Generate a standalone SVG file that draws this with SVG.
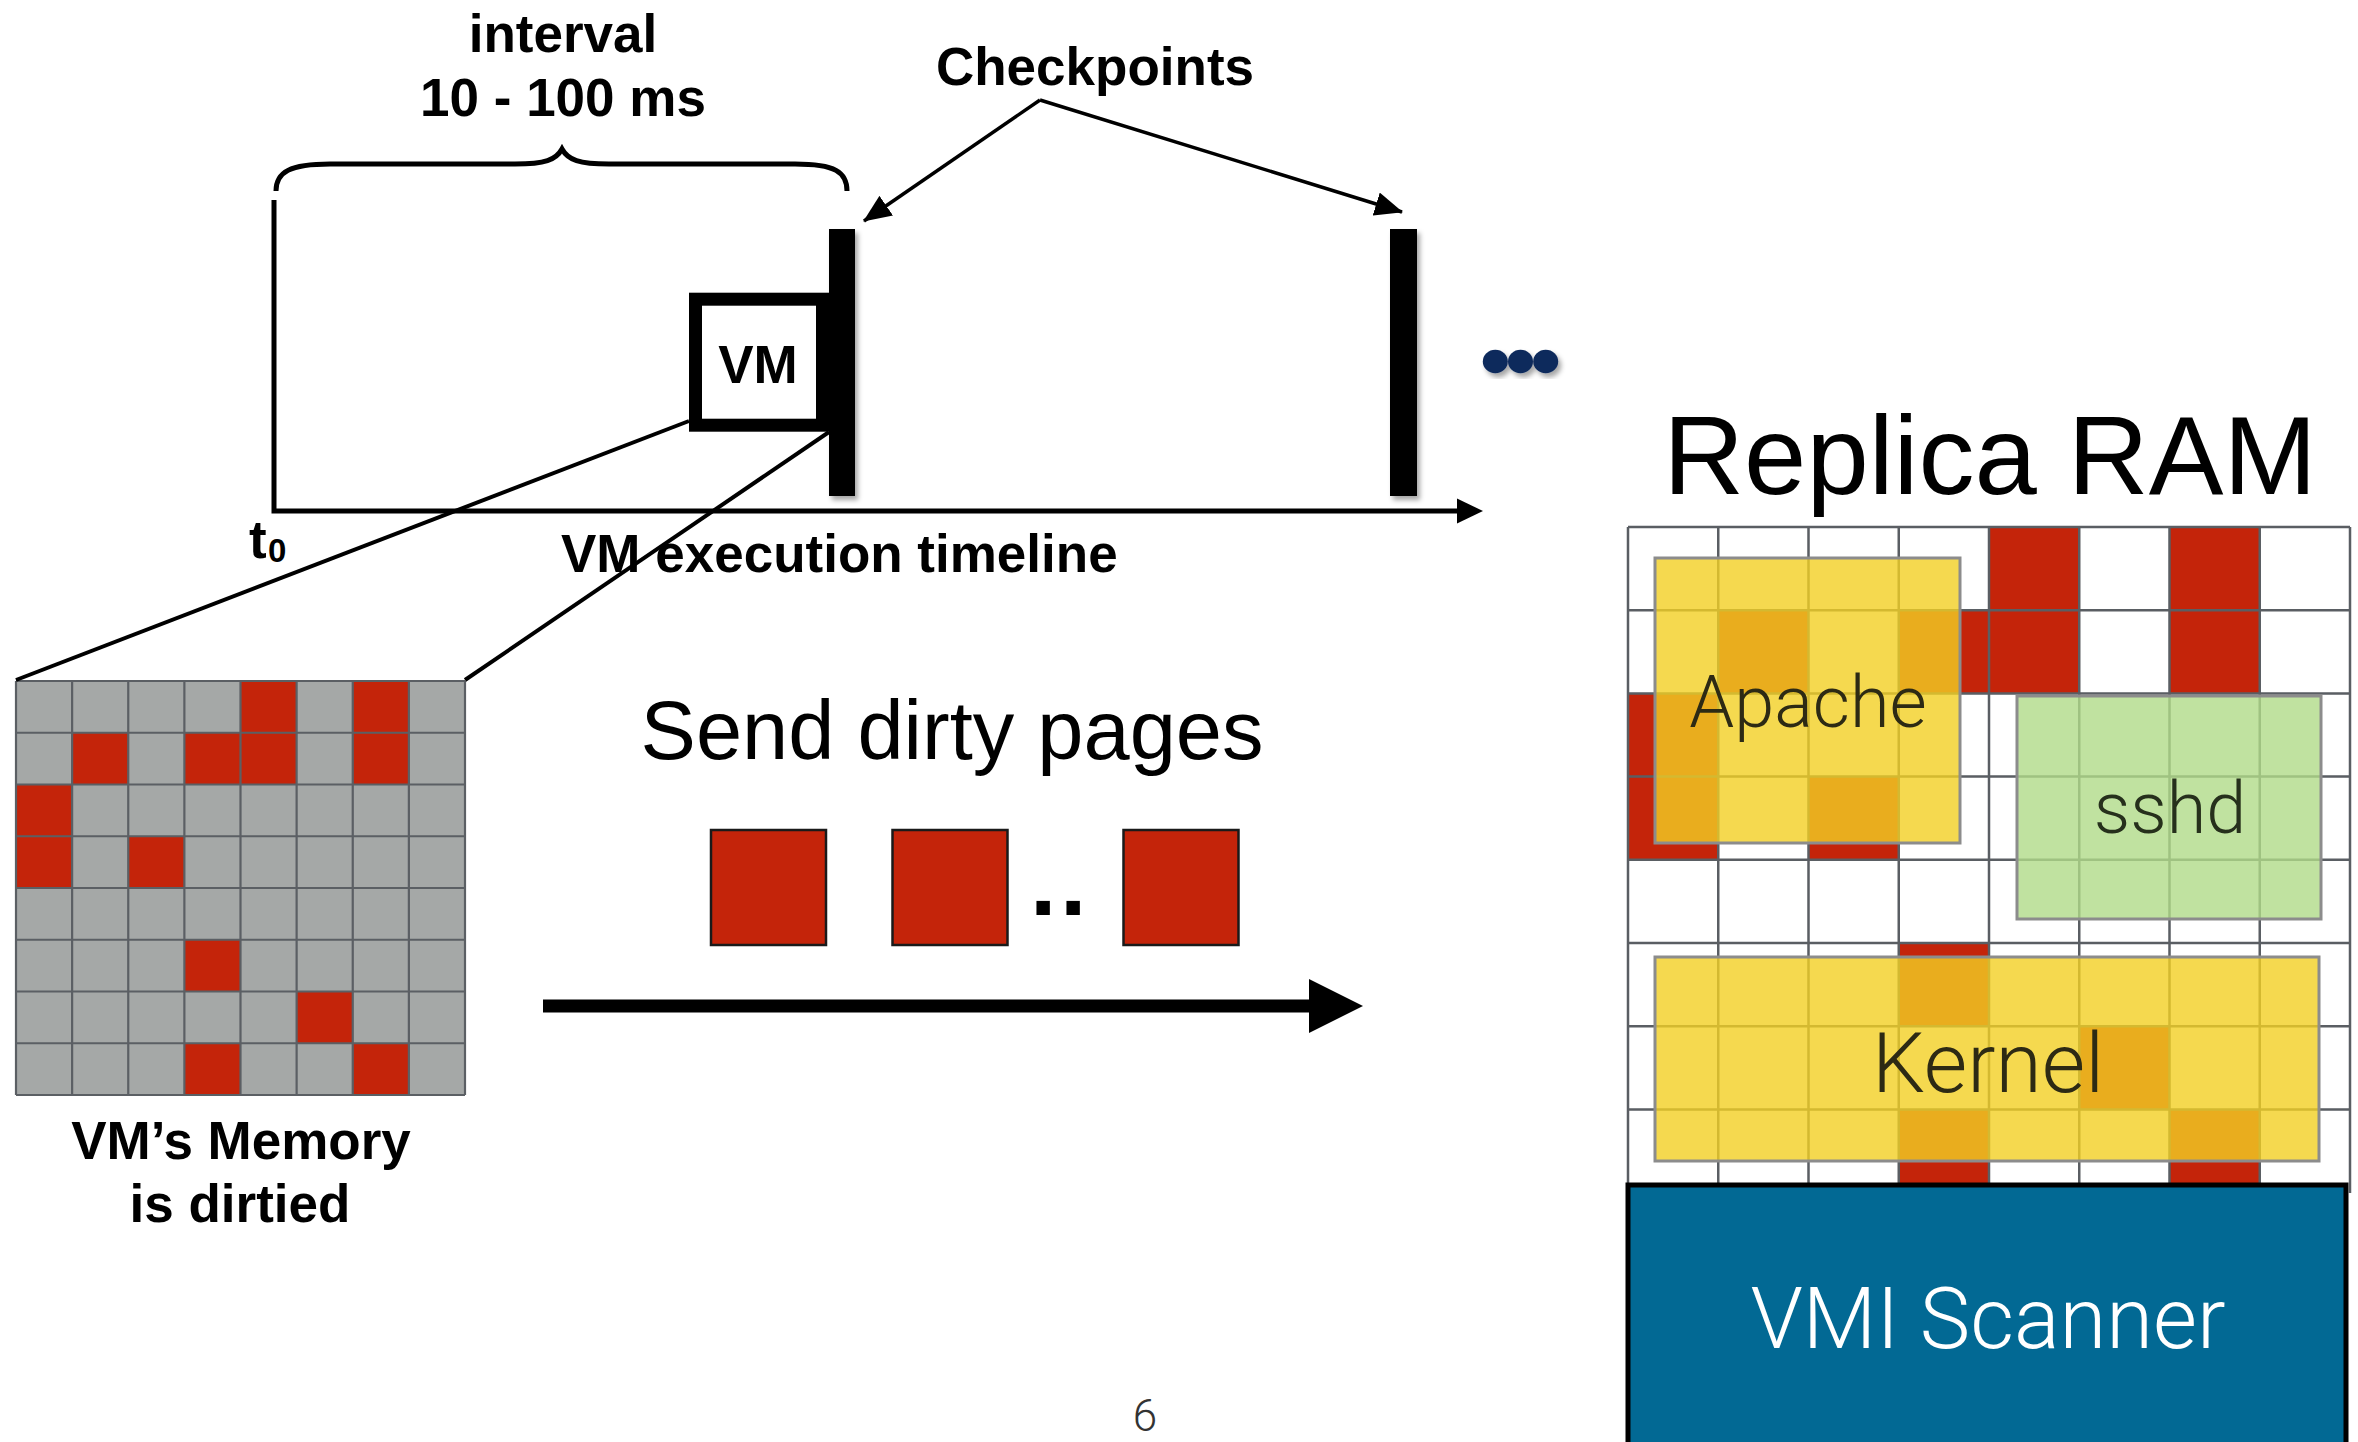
<svg xmlns="http://www.w3.org/2000/svg" width="2358" height="1442" viewBox="0 0 2358 1442">
  <defs>
    <style>
      .bold { font-family: "Liberation Sans", Arial, Helvetica, sans-serif; font-weight: bold; font-size: 53px; fill: #000; }
      .reg { font-family: "Liberation Sans", Arial, Helvetica, sans-serif; font-weight: normal; fill: #000; }
      .light { font-family: Roboto, "Liberation Sans", Arial, sans-serif; font-weight: 300; }
      .mid { text-anchor: middle; }
      .gridL { fill: none; stroke: #5b5f64; stroke-width: 2.2; }
      .gridR { fill: none; stroke: #5a5e63; stroke-width: 2.5; }
      .dirty { fill: #c4240a; }
      .page { fill: #c4240a; stroke: #1a1a1a; stroke-width: 2.5; }
      .region { stroke: #8c8c8c; stroke-width: 3; }
      .conn { fill: none; stroke: #000; }
    </style>
    <filter id="shadow" x="-50%" y="-10%" width="200%" height="130%">
      <feDropShadow dx="3" dy="4" stdDeviation="2.5" flood-color="#000" flood-opacity="0.35"/>
    </filter>
    <marker id="head" markerUnits="userSpaceOnUse" markerWidth="28" markerHeight="24" refX="27" refY="12" orient="auto">
      <path d="M0,0 L28,12 L0,24 z" fill="#000"/>
    </marker>
  </defs>

  <rect width="2358" height="1442" fill="#fff"/>

  <!-- interval brace and label -->
  <g id="interval">
    <path d="M276,191 C276,172 290,164 330,164 L515,164 C545,164 556,160 562,149 C568,160 579,164 609,164 L795,164 C835,164 847,172 847,191" fill="none" stroke="#000" stroke-width="5"/>
    <text class="bold mid" x="563" y="52">interval</text>
    <text class="bold mid" x="563" y="116">10 - 100 ms</text>
  </g>

  <!-- execution timeline axis -->
  <g id="timeline">
    <path d="M274,200 V511 H1460" fill="none" stroke="#000" stroke-width="5"/>
    <polygon points="1457,498.5 1483,511 1457,523.5" fill="#000"/>
    <text class="bold" x="249" y="558">t</text>
    <text class="bold" x="268" y="562" style="font-size:33px">0</text>
    <text class="bold" x="561" y="572">VM execution timeline</text>
  </g>

  <!-- memory grid of the running VM -->
  <g id="vm-memory">
    <rect x="16" y="681" width="449" height="414" fill="#a5a8a7"/>
    <rect class="dirty" x="240.5" y="681" width="56.125" height="51.75"/>
    <rect class="dirty" x="352.75" y="681" width="56.125" height="51.75"/>
    <rect class="dirty" x="72.125" y="732.75" width="56.125" height="51.75"/>
    <rect class="dirty" x="184.375" y="732.75" width="56.125" height="51.75"/>
    <rect class="dirty" x="240.5" y="732.75" width="56.125" height="51.75"/>
    <rect class="dirty" x="352.75" y="732.75" width="56.125" height="51.75"/>
    <rect class="dirty" x="16" y="784.5" width="56.125" height="51.75"/>
    <rect class="dirty" x="16" y="836.25" width="56.125" height="51.75"/>
    <rect class="dirty" x="128.25" y="836.25" width="56.125" height="51.75"/>
    <rect class="dirty" x="184.375" y="939.75" width="56.125" height="51.75"/>
    <rect class="dirty" x="296.625" y="991.5" width="56.125" height="51.75"/>
    <rect class="dirty" x="184.375" y="1043.25" width="56.125" height="51.75"/>
    <rect class="dirty" x="352.75" y="1043.25" width="56.125" height="51.75"/>
    <path class="gridL" d="M16,681V1095 M72.125,681V1095 M128.25,681V1095 M184.375,681V1095 M240.5,681V1095 M296.625,681V1095 M352.75,681V1095 M408.875,681V1095 M465,681V1095
      M16,681H465 M16,732.75H465 M16,784.5H465 M16,836.25H465 M16,888H465 M16,939.75H465 M16,991.5H465 M16,1043.25H465 M16,1095H465"/>
    <text class="bold mid" x="241" y="1159">VM’s Memory</text>
    <text class="bold mid" x="240" y="1222">is dirtied</text>
  </g>

  <!-- zoom lines from the VM to its memory, checkpoint pointers, transfer arrow -->
  <g id="connectors">
    <line class="conn" x1="689" y1="421" x2="16" y2="680" stroke-width="4"/>
    <line class="conn" x1="829" y1="432" x2="465" y2="680" stroke-width="4"/>
    <line class="conn" x1="1040" y1="100" x2="864" y2="221" stroke-width="3.5" marker-end="url(#head)"/>
    <line class="conn" x1="1040" y1="100" x2="1402" y2="212" stroke-width="3.5" marker-end="url(#head)"/>
    <line class="conn" x1="543" y1="1006" x2="1312" y2="1006" stroke-width="13"/>
    <polygon points="1309,979 1363,1006 1309,1033" fill="#000"/>
  </g>

  <!-- running VM -->
  <g id="vm">
    <rect x="695.5" y="299.2" width="127" height="126" fill="#fff" stroke="#000" stroke-width="13"/>
    <text class="bold mid" x="758" y="383">VM</text>
  </g>

  <!-- checkpoint markers -->
  <g id="checkpoints">
    <rect x="829" y="229" width="26" height="267" fill="#000" filter="url(#shadow)"/>
    <rect x="1390" y="229" width="27" height="267" fill="#000" filter="url(#shadow)"/>
    <text class="bold mid" x="1095" y="85">Checkpoints</text>
  </g>

  <g id="more" fill="#0c2a5c" filter="url(#shadow)">
    <ellipse cx="1495.3" cy="361.5" rx="12.5" ry="11.8"/>
    <ellipse cx="1520.5" cy="361.5" rx="12.5" ry="11.8"/>
    <ellipse cx="1545.7" cy="361.5" rx="12.5" ry="11.8"/>
  </g>

  <!-- pages being transferred -->
  <g id="send-dirty-pages">
    <text class="reg mid" x="952" y="759" style="font-size:83px">Send dirty pages</text>
    <rect class="page" x="711" y="830" width="115" height="115"/>
    <rect class="page" x="892.5" y="830" width="115" height="115"/>
    <text class="bold" x="1030" y="915" style="font-size:95px;letter-spacing:3.6px">..</text>
    <rect class="page" x="1123.5" y="830" width="115" height="115"/>
  </g>

  <!-- replica memory with process regions -->
  <g id="replica-ram">
    <text class="reg mid" x="1990" y="494" style="font-size:112px">Replica RAM</text>
    <rect x="1628" y="527" width="722" height="666" fill="#fff"/>
    <rect class="dirty" x="1989" y="527" width="90.25" height="83.2"/>
    <rect class="dirty" x="2169.5" y="527" width="90.25" height="83.2"/>
    <rect class="dirty" x="1718.25" y="610.2" width="90.25" height="83.2"/>
    <rect class="dirty" x="1898.75" y="610.2" width="90.25" height="83.2"/>
    <rect class="dirty" x="1989" y="610.2" width="90.25" height="83.2"/>
    <rect class="dirty" x="2169.5" y="610.2" width="90.25" height="83.2"/>
    <rect class="dirty" x="1628" y="693.4" width="90.25" height="83.2"/>
    <rect class="dirty" x="1628" y="776.6" width="90.25" height="83.2"/>
    <rect class="dirty" x="1808.5" y="776.6" width="90.25" height="83.2"/>
    <rect class="dirty" x="1898.75" y="943" width="90.25" height="83.2"/>
    <rect class="dirty" x="2079.25" y="1026.2" width="90.25" height="83.2"/>
    <rect class="dirty" x="1898.75" y="1109.4" width="90.25" height="83.2"/>
    <rect class="dirty" x="2169.5" y="1109.4" width="90.25" height="83.2"/>
    <path class="gridR" d="M1628,527V1193 M1718.25,527V1193 M1808.5,527V1193 M1898.75,527V1193 M1989,527V1193 M2079.25,527V1193 M2169.5,527V1193 M2259.75,527V1193 M2350,527V1193
      M1628,527H2350 M1628,610.2H2350 M1628,693.4H2350 M1628,776.6H2350 M1628,859.8H2350 M1628,943H2350 M1628,1026.2H2350 M1628,1109.4H2350"/>
  </g>

  <g id="apache">
    <rect class="region" x="1655" y="558" width="305" height="285" fill="#f2cf23" fill-opacity="0.8"/>
    <text class="light mid" x="1808" y="727" style="font-size:72px;fill:#2d2a14">Apache</text>
  </g>

  <g id="sshd">
    <rect class="region" x="2017" y="696" width="304" height="223" fill="#b0db88" fill-opacity="0.8"/>
    <text class="light mid" x="2170" y="833" style="font-size:72px;fill:#26301c">sshd</text>
  </g>

  <g id="kernel">
    <rect class="region" x="1655" y="957" width="664" height="204" fill="#f2cf23" fill-opacity="0.8"/>
    <text class="light mid" x="1988" y="1092" style="font-size:84px;fill:#2d2a14">Kernel</text>
  </g>

  <g id="vmi-scanner">
    <rect x="1628" y="1185" width="718" height="275" fill="#026994" stroke="#000" stroke-width="5"/>
    <text class="light mid" x="1988" y="1348" style="font-size:85px;fill:#fff">VMI Scanner</text>
  </g>

  <text class="light mid" x="1145" y="1431" style="font-size:44px;fill:#333">6</text>
</svg>
